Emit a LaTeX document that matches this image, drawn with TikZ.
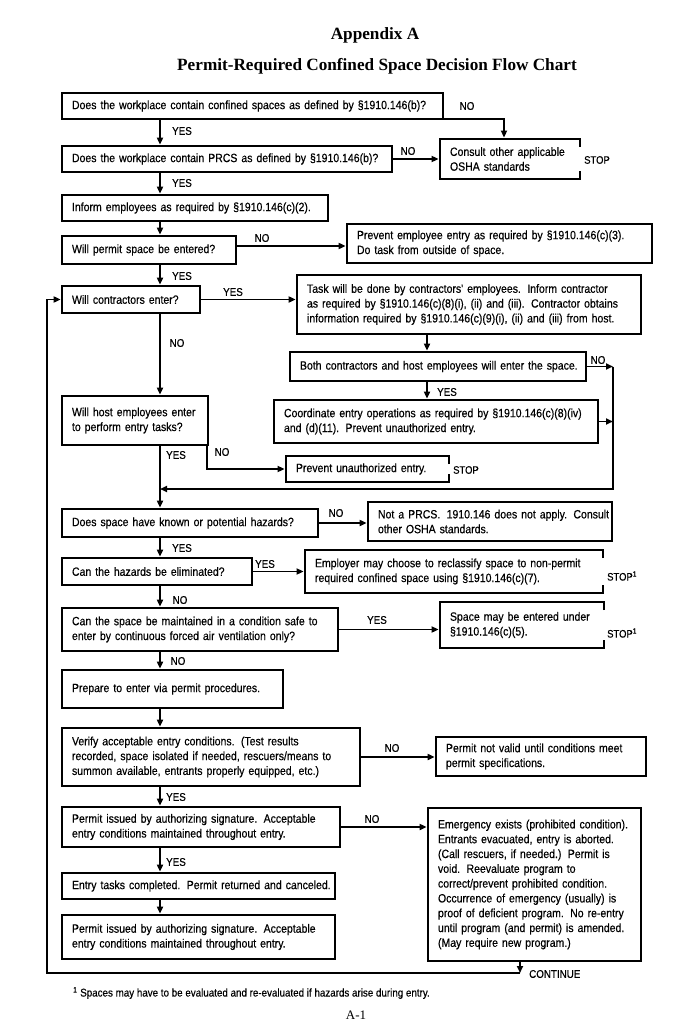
\documentclass[tikz,border=0pt]{standalone}
\usepackage{fontspec}
\usetikzlibrary{arrows.meta}
\newfontfamily\arialn{Liberation Sans}[FakeStretch=0.875,FakeBold=0.4]
\newfontfamily\timesf{Liberation Serif}
\newcommand\bxf{\arialn\frenchspacing\fontsize{12}{14.8}\selectfont}
\newcommand\lbf{\arialn\frenchspacing\fontsize{11.2}{12}\selectfont}
\newcommand\stf{\arialn\fontsize{10.8}{12}\selectfont}
\newcommand\ttlf{\timesf\bfseries\fontsize{17.2}{20}\selectfont}
\newcommand\oneline[1]{\mbox{#1}}
\newcommand\ds{\hspace{0.2em}}
\tikzset{
  box/.style={draw, line width=2.7pt, rectangle, align=left, inner xsep=10pt, inner ysep=0pt, font=\bxf, line join=miter},
  openbox/.style={box, draw=none, outer sep=0pt},
  brd/.style={line width=2.7pt, line join=miter},
  conn/.style={line width=1.7pt},
  arr/.style={conn, -{Triangle[length=7pt,width=6pt]}},
  lab/.style={font=\lbf, inner sep=0pt},
  stoplab/.style={font=\stf, inner sep=0pt, anchor=west},
}
\begin{document}
\begin{tikzpicture}[x=1pt,y=-1pt]
\fill[white] (0,0) rectangle (699,1024);
\useasboundingbox (0,0) rectangle (699,1024);

% titles
\node[font=\ttlf] (title1) at (375,35) {Appendix A};
\node[font=\ttlf] (title2) at (377,66) {Permit-Required Confined Space Decision Flow Chart};

% helper coordinates
\coordinate (mainx) at (160,0);
\coordinate (c1x) at (504,0);
\coordinate (y4) at (0,246);
\coordinate (tx) at (427,0);
\coordinate (rx) at (613,489);
\coordinate (hx) at (207,470);
\coordinate (cont) at (520,973);
\coordinate (lx) at (47,0);

% boxes
\node[box, text width=361, minimum height=26] (q1) at (252.5,106) {\oneline{Does the workplace contain confined spaces as defined by §1910.146(b)?}};
\node[box, text width=310, minimum height=26] (q2) at (227,159) {\oneline{Does the workplace contain PRCS as defined by §1910.146(b)?}};
\node[openbox, text width=120, minimum height=40] (consult) at (510,159) {\oneline{Consult other applicable}\\\oneline{OSHA standards}};
\node[box, text width=246, minimum height=26] (a3) at (195,208) {\oneline{Inform employees as required by §1910.146(c)(2).}};
\node[box, text width=154, minimum height=28] (q4) at (149,250) {\oneline{Will permit space be entered?}};
\node[box, text width=285, minimum height=39] (prevent) at (499.5,243.5) {\oneline{Prevent employee entry as required by §1910.146(c)(3).}\\\oneline{Do task from outside of space.}};
\node[box, text width=118, minimum height=27] (q5) at (131,299.5) {\oneline{Will contractors enter?}};
\node[box, text width=324, minimum height=59] (task) at (469,304.5) {\oneline{Task will be done by contractors' employees.\ds{} Inform contractor}\\\oneline{as required by §1910.146(c)(8)(i), (ii) and (iii).\ds{} Contractor obtains}\\\oneline{information required by §1910.146(c)(9)(i), (ii) and (iii) from host.}};
\node[box, text width=276, minimum height=29] (both) at (438,366.5) {\oneline{Both contractors and host employees will enter the space.}};
\node[box, text width=304, minimum height=43] (coord) at (436,421.5) {\oneline{Coordinate entry operations as required by §1910.146(c)(8)(iv)}\\\oneline{and (d)(11).\ds{} Prevent unauthorized entry.}};
\node[box, text width=126, minimum height=49] (host) at (135,420.5) {\oneline{Will host employees enter}\\\oneline{to perform entry tasks?}};
\node[openbox, text width=143, minimum height=26] (unauth) at (367.5,469) {\oneline{Prevent unauthorized entry.}};
\node[box, text width=236, minimum height=28] (haz) at (190,523) {\oneline{Does space have known or potential hazards?}};
\node[box, text width=224, minimum height=39] (notprcs) at (490,521.5) {\oneline{Not a PRCS.\ds{} 1910.146 does not apply.\ds{} Consult}\\\oneline{other OSHA standards.}};
\node[box, text width=170, minimum height=27] (elim) at (157,571.5) {\oneline{Can the hazards be eliminated?}};
\node[openbox, text width=278, minimum height=43] (employer) at (454,571.5) {\oneline{Employer may choose to reclassify space to non-permit}\\\oneline{required confined space using §1910.146(c)(7).}};
\node[box, text width=256, minimum height=43] (maint) at (200,629.5) {\oneline{Can the space be maintained in a condition safe to}\\\oneline{enter by continuous forced air ventilation only?}};
\node[openbox, text width=144, minimum height=46] (spacebox) at (522,625) {\oneline{Space may be entered under}\\\oneline{§1910.146(c)(5).}};
\node[box, text width=201, minimum height=38] (prep) at (172.5,689) {\oneline{Prepare to enter via permit procedures.}};
\node[box, text width=278, minimum height=58] (verify) at (211,757) {\oneline{Verify acceptable entry conditions.\ds{} (Test results}\\\oneline{recorded, space isolated if needed, rescuers/means to}\\\oneline{summon available, entrants properly equipped, etc.)}};
\node[box, text width=190, minimum height=39] (notvalid) at (541,756.5) {\oneline{Permit not valid until conditions meet}\\\oneline{permit specifications.}};
\node[box, text width=258, minimum height=40] (issued) at (201,827) {\oneline{Permit issued by authorizing signature.\ds{} Acceptable}\\\oneline{entry conditions maintained throughout entry.}};
\node[box, text width=193, minimum height=153] (emerg) at (534.5,884.5) {\oneline{Emergency exists (prohibited condition).}\\\oneline{Entrants evacuated, entry is aborted.}\\\oneline{(Call rescuers, if needed.)\ds{} Permit is}\\\oneline{void.\ds{} Reevaluate program to}\\\oneline{correct/prevent prohibited condition.}\\\oneline{Occurrence of emergency (usually) is}\\\oneline{proof of deficient program.\ds{} No re-entry}\\\oneline{until program (and permit) is amended.}\\\oneline{(May require new program.)}};
\node[box, text width=253, minimum height=26] (tasks) at (198.5,886) {\oneline{Entry tasks completed.\ds{} Permit returned and canceled.}};
\node[box, text width=253, minimum height=44] (issued2) at (198.5,937) {\oneline{Permit issued by authorizing signature.\ds{} Acceptable}\\\oneline{entry conditions maintained throughout entry.}};

% open (STOP) box borders
\foreach \b in {consult,unauth,employer,spacebox}{
  \draw[brd] ([yshift=-8pt]\b.north east) -- (\b.north east) -- (\b.north west) -- (\b.south west) -- (\b.south east) -- ([yshift=8pt]\b.south east);
}
\node[stoplab] (stop1) at (584,160) {STOP};
\node[stoplab] (stop2) at (453,470) {STOP};
\node[stoplab] (stop3) at (607,576) {STOP\textsuperscript{1}};
\node[stoplab] (stop4) at (607,633) {STOP\textsuperscript{1}};

% connectors
\draw[arr] ([yshift=1.2pt]q1.south east) -| ([yshift=1.4pt]consult.north -| c1x);
\draw[arr] (q1.south -| mainx) -- (q2.north -| mainx);
\draw[arr] (q2.east) -- ([xshift=-1.4pt]consult.west |- q2.east);
\draw[arr] (q2.south -| mainx) -- (a3.north -| mainx);
\draw[arr] (a3.south -| mainx) -- (q4.north -| mainx);
\draw[arr] (q4.east |- y4) -- (prevent.west |- y4);
\draw[arr] (q4.south -| mainx) -- (q5.north -| mainx);
\draw[arr] (q5.east) -- (task.west |- q5.east);
\draw[arr] (task.south -| tx) -- (both.north -| tx);
\draw[arr] (both.east) -- (both.east -| rx);
\draw[arr] (both.south -| tx) -- (coord.north -| tx);
\draw[arr] (coord.east) -- (coord.east -| rx);
\draw[arr] (both.east -| rx) -- (rx) -- (rx -| mainx);
\draw[arr] (q5.south -| mainx) -- (host.north -| mainx);
\draw[arr] (host.south -| mainx) -- (haz.north -| mainx);
\draw[arr] (host.south -| hx) |- ([xshift=-1.4pt]unauth.west);
\draw[arr] (haz.east) -- (notprcs.west |- haz.east);
\draw[arr] (haz.south -| mainx) -- (elim.north -| mainx);
\draw[arr] (elim.east) -- ([xshift=-1.4pt]employer.west |- elim.east);
\draw[arr] (elim.south -| mainx) -- (maint.north -| mainx);
\draw[arr] (maint.east) -- ([xshift=-1.4pt]spacebox.west |- maint.east);
\draw[arr] (maint.south -| mainx) -- (prep.north -| mainx);
\draw[arr] (prep.south -| mainx) -- (verify.north -| mainx);
\draw[arr] (verify.east) -- (notvalid.west |- verify.east);
\draw[arr] (verify.south -| mainx) -- (issued.north -| mainx);
\draw[arr] (issued.east) -- (emerg.west |- issued.east);
\draw[arr] (issued.south -| mainx) -- (tasks.north -| mainx);
\draw[arr] (tasks.south -| mainx) -- (issued2.north -| mainx);
\draw[arr] (emerg.south -| cont) -- (cont);
\draw[arr] (cont) -| (lx |- q5.west) -- (q5.west);

% labels
\node[lab] (n1) at (467,106) {NO};
\node[lab] (y1) at (182,131) {YES};
\node[lab] (n2) at (408,151) {NO};
\node[lab] (y2) at (182,183) {YES};
\node[lab] (n4) at (262,238) {NO};
\node[lab] (y4l) at (182,276) {YES};
\node[lab] (y5) at (233,292) {YES};
\node[lab] (n5) at (177,343) {NO};
\node[lab] (nb) at (598,360) {NO};
\node[lab] (yb) at (447,392) {YES};
\node[lab] (yh) at (176,455) {YES};
\node[lab] (nh) at (222,452) {NO};
\node[lab] (nz) at (336,513) {NO};
\node[lab] (yz) at (182,548) {YES};
\node[lab] (ye) at (265,564) {YES};
\node[lab] (ne) at (180,600) {NO};
\node[lab] (ym) at (377,620) {YES};
\node[lab] (nm) at (178,661) {NO};
\node[lab] (nv) at (392,748) {NO};
\node[lab] (yv) at (176,797) {YES};
\node[lab] (ni) at (372,819) {NO};
\node[lab] (yi) at (176,862) {YES};
\node[lab, anchor=west] (contl) at (529,974) {CONTINUE};

% footnote and page number
\node[lab, anchor=west] (fn) at (73,993) {\textsuperscript{1}~Spaces may have to be evaluated and re-evaluated if hazards arise during entry.};
\node[font=\timesf\fontsize{13}{15}\selectfont, inner sep=0pt, anchor=north] (pg) at (356,1011) {A-1};
\end{tikzpicture}
\end{document}
